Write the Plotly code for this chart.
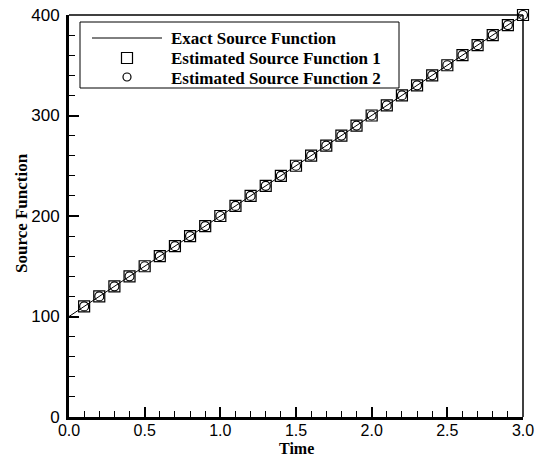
import plotly.graph_objects as go

# Data
time_exact = [0.0, 0.5, 1.0, 1.5, 2.0, 2.5, 3.0]
source_exact = [100, 150, 200, 250, 300, 350, 400]

time_est = [0.1, 0.2, 0.3, 0.4, 0.5, 0.6, 0.7, 0.8, 0.9, 1.0,
            1.1, 1.2, 1.3, 1.4, 1.5, 1.6, 1.7, 1.8, 1.9, 2.0,
            2.1, 2.2, 2.3, 2.4, 2.5, 2.6, 2.7, 2.8, 2.9, 3.0]
source_est1 = [110, 120, 130, 140, 150, 160, 170, 180, 190, 200,
               210, 220, 230, 240, 250, 260, 270, 280, 290, 300,
               310, 320, 330, 340, 350, 360, 370, 380, 390, 400]
source_est2 = [110, 120, 130, 140, 150, 160, 170, 180, 190, 200,
               210, 220, 230, 240, 250, 260, 270, 280, 290, 300,
               310, 320, 330, 340, 350, 360, 370, 380, 390, 400]

series_names = ["Exact Source Function", "Estimated Source Function 1",
                "Estimated Source Function 2"]

x_ticks = [0.0, 0.5, 1.0, 1.5, 2.0, 2.5, 3.0]
y_ticks = [0, 100, 200, 300, 400]

# Layout geometry (pixels)
W, H = 539, 457
ML, MR, MT, MB = 69, 16, 15, 40
PW, PH = W - ML - MR, H - MT - MB


def px(xp):
    return (xp - ML) / PW


def py(yp):
    return 1 - (yp - MT) / PH


fig = go.Figure()
fig.add_trace(go.Scatter(x=time_exact, y=source_exact, mode="lines",
                         name=series_names[0], showlegend=False,
                         line=dict(color="black", width=1), cliponaxis=False))
fig.add_trace(go.Scatter(x=time_est, y=source_est1, mode="markers",
                         name=series_names[1], showlegend=False,
                         marker=dict(symbol="square-open", size=11, color="black",
                                     line=dict(width=1.2, color="black")),
                         cliponaxis=False))
fig.add_trace(go.Scatter(x=time_est, y=source_est2, mode="markers",
                         name=series_names[2], showlegend=False,
                         marker=dict(symbol="circle-open", size=9, color="black",
                                     line=dict(width=1.2, color="black")),
                         cliponaxis=False))

sans = "Liberation Sans, Arial, sans-serif"
serif = "Liberation Serif, Times New Roman, serif"

fig.update_layout(
    template="none",
    width=W, height=H,
    margin=dict(l=ML, r=MR, t=MT, b=MB, autoexpand=False),
    paper_bgcolor="white", plot_bgcolor="white",
    showlegend=False,
    xaxis=dict(range=[0, 3], tickvals=x_ticks, ticktext=[f"{v:.1f}" for v in x_ticks],
               automargin=False,
               showgrid=False, zeroline=False, showline=True, linecolor="black", linewidth=3,
               ticks="inside", ticklen=10, tickwidth=2, tickcolor="black",
               ticklabelstandoff=-3,
               minor=dict(dtick=0.1, ticks="inside", ticklen=6, tickwidth=1, tickcolor="black",
                          showgrid=False),
               tickfont=dict(family=sans, size=16, color="black")),
    yaxis=dict(range=[0, 400], tickvals=y_ticks,
               automargin=False,
               showgrid=False, zeroline=False, showline=True, linecolor="black", linewidth=3,
               ticks="inside", ticklen=10, tickwidth=2, tickcolor="black",
               ticklabelstandoff=3,
               minor=dict(dtick=20, ticks="inside", ticklen=6, tickwidth=1, tickcolor="black",
                          showgrid=False),
               tickfont=dict(family=sans, size=17, color="black")),
)

# Axis titles
fig.add_annotation(text="<b>Time</b>", xref="paper", yref="paper", x=0.5, y=py(459),
                   xanchor="center", yanchor="bottom", showarrow=False,
                   font=dict(family=serif, size=16, color="black"))
fig.add_annotation(text="<b>Source Function</b>", xref="paper", yref="paper",
                   x=px(21), y=py(213), textangle=-90,
                   xanchor="center", yanchor="middle", showarrow=False,
                   font=dict(family=serif, size=17, color="black"))

# thin top and right frame
fig.add_shape(type="line", xref="paper", yref="paper", x0=0, x1=1, y0=1, y1=1,
              line=dict(color="black", width=1.5))
fig.add_shape(type="line", xref="paper", yref="paper", x0=1, x1=1, y0=0, y1=1,
              line=dict(color="black", width=1.5))

# Legend box
fig.add_shape(type="rect", xref="paper", yref="paper", x0=px(80), x1=px(399),
              y0=py(88), y1=py(22), line=dict(color="black", width=1),
              fillcolor="rgba(0,0,0,0)")
rows = [38, 58, 77]
fig.add_shape(type="line", xref="paper", yref="paper", x0=px(92), x1=px(162),
              y0=py(rows[0]), y1=py(rows[0]), line=dict(color="black", width=1))
fig.add_shape(type="rect", xref="paper", yref="paper", x0=px(121.5), x1=px(132.5),
              y0=py(rows[1] + 5.5), y1=py(rows[1] - 5.5), line=dict(color="black", width=1.2))
fig.add_shape(type="circle", xref="paper", yref="paper", x0=px(123), x1=px(131),
              y0=py(rows[2] + 4), y1=py(rows[2] - 4), line=dict(color="black", width=1.2))
for name, r in zip(series_names, rows):
    fig.add_annotation(text=f"<b>{name}</b>", xref="paper", yref="paper",
                       x=px(169), y=py(r + 1), xanchor="left", yanchor="middle",
                       showarrow=False,
                       font=dict(family=serif, size=17, color="black"))

fig.write_html("out.html")
